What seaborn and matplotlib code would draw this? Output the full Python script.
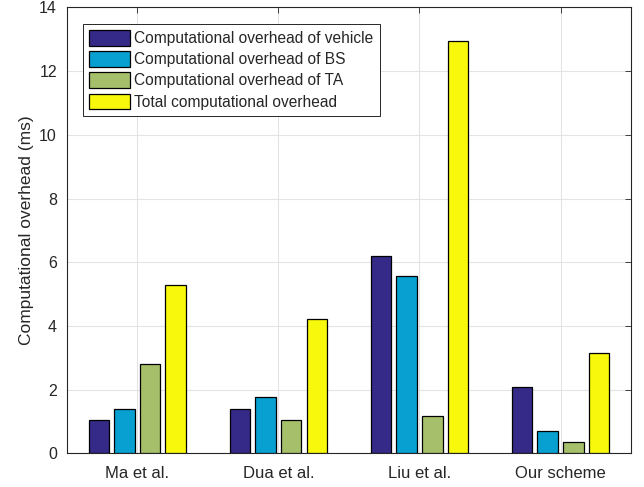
import matplotlib
matplotlib.use("Agg")
import matplotlib.pyplot as plt
import seaborn as sns
import pandas as pd

# Schemes compared and their measured overheads (ms)
schemes = ["Ma et al.", "Dua et al.", "Liu et al.", "Our scheme"]
vehicle = [1.05, 1.40, 6.19, 2.09]
bs = [1.39, 1.76, 5.56, 0.69]
ta = [2.81, 1.04, 1.16, 0.35]
total = [5.29, 4.23, 12.94, 3.16]

series_names = [
    "Computational overhead of vehicle",
    "Computational overhead of BS",
    "Computational overhead of TA",
    "Total computational overhead",
]
series_values = [vehicle, bs, ta, total]
colors = ["#352a87", "#089fd1", "#a5bf6a", "#f7f80b"]
y_ticks = [0, 2, 4, 6, 8, 10, 12, 14]

rows = []
for name, vals in zip(series_names, series_values):
    for s, v in zip(schemes, vals):
        rows.append({"Scheme": s, "Series": name, "Value": v})
df = pd.DataFrame(rows)

sns.set_style("white")
plt.rcParams["font.family"] = ["Liberation Sans", "DejaVu Sans"]
plt.rcParams["font.size"] = 11

fig = plt.figure(figsize=(6.44, 4.87), dpi=100)
ax = fig.add_axes([0.1036, 0.0692, 0.98 - 0.1036, 0.9846 - 0.0692])

sns.barplot(
    data=df, x="Scheme", y="Value", hue="Series",
    order=schemes, hue_order=series_names, palette=colors, saturation=1,
    width=0.727, gap=0.2, edgecolor="black", linewidth=0.9,
    errorbar=None, ax=ax, zorder=3,
)

axis_color = "#262626"
ax.set_xlim(-0.5, 3.5)
ax.set_ylim(0, 14)
ax.set_yticks(y_ticks)
ax.set_yticklabels([str(t) for t in y_ticks])
ax.set_xlabel("")
ax.set_ylabel("Computational overhead (ms)", fontsize=12.5, color=axis_color, labelpad=4)
ax.grid(True, color="#e3e3e3", linewidth=0.8, zorder=0)
ax.set_axisbelow(True)
for sp in ax.spines.values():
    sp.set_visible(True)
    sp.set_color(axis_color)
    sp.set_linewidth(0.8)
ax.tick_params(axis="both", direction="in", length=4, width=0.6, colors=axis_color,
               top=True, right=True)
ax.tick_params(axis="x", labelsize=12, pad=9)
ax.tick_params(axis="y", labelsize=11.5, pad=7)
for lab in ax.get_xticklabels() + ax.get_yticklabels():
    lab.set_color(axis_color)

leg = ax.legend(
    loc="upper left", bbox_to_anchor=(0.029, 0.963), borderaxespad=0,
    fontsize=11.2, handlelength=2.6, handleheight=1.15, labelspacing=0.33,
    handletextpad=0.28, borderpad=0.4, fancybox=False, framealpha=1,
    edgecolor=axis_color,
)
leg.get_frame().set_linewidth(0.7)

fig.savefig("out.png", dpi=100)
